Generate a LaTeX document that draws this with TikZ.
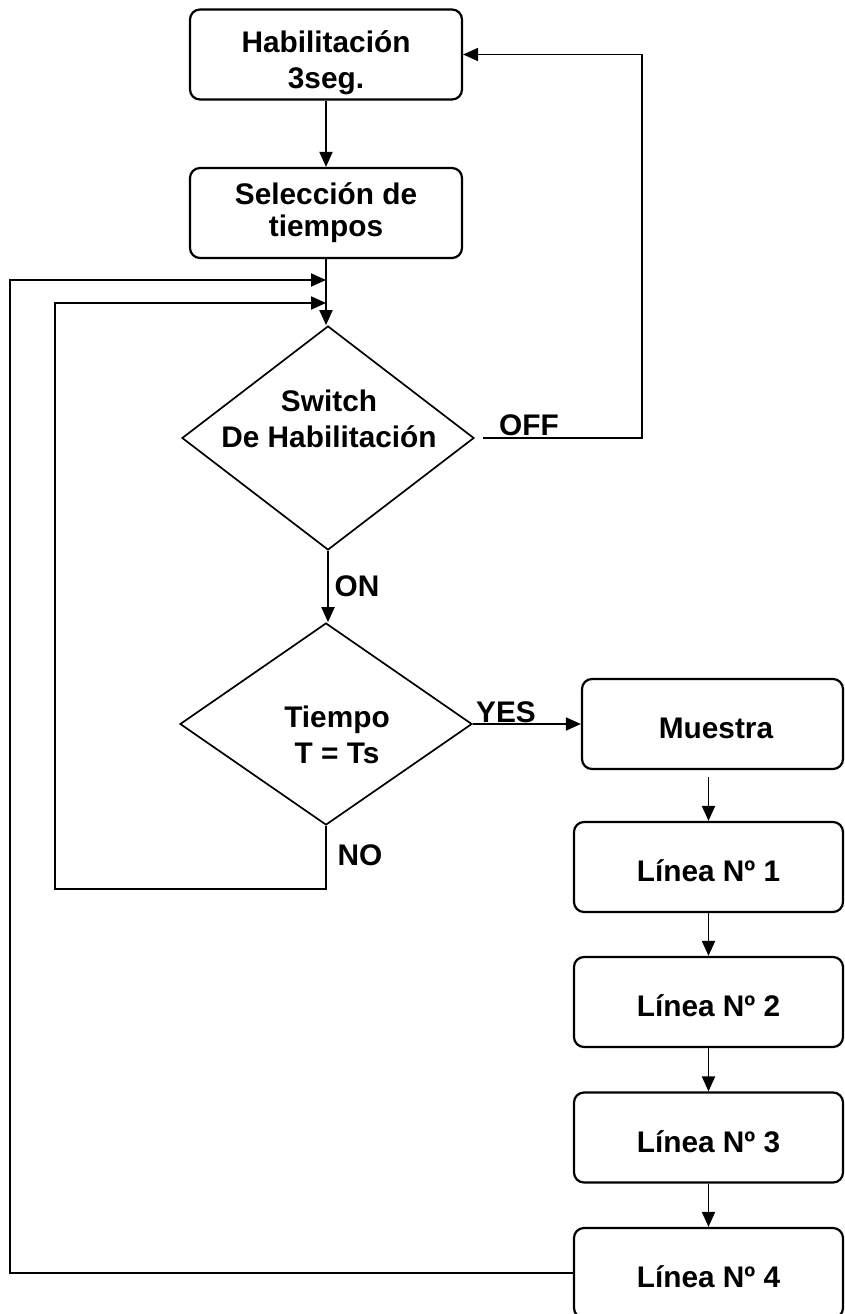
\documentclass[tikz,border=0pt]{standalone}
\usepackage{fontspec}
\setmainfont{Liberation Sans}
\usetikzlibrary{shapes.geometric,arrows.meta}
\begin{document}
\begin{tikzpicture}[x=1pt,y=-1pt,
  fnt/.style={font=\bfseries\fontsize{29.8}{36}\selectfont},
  box/.style={draw,line width=2.2pt,rounded corners=10pt,minimum width=272pt,minimum height=90pt,inner sep=0pt},
  lbox/.style={box,minimum width=269pt},
  dia/.style={draw,diamond,line width=1.7pt,inner sep=0pt},
  txt/.style={align=center,inner sep=0pt,fnt},
  btxt/.style={inner sep=0pt,anchor=base,fnt},
  conn/.style={line width=1.9pt},
  arr/.style={conn,-{Triangle[length=15pt,width=13pt]}},
  lbl/.style={inner sep=0pt,fnt}]
\clip (0,0) rectangle (845,1314);
\fill[white] (0,0) rectangle (845,1314);
% nodes
\node[box] (hab) at (326,54.5) {};
\node[txt] (habt) at (326,63) {Habilitación\\3seg.};
\node[box] (sel) at (326,213) {};
\node[txt,font=\bfseries\fontsize{29.8}{32}\selectfont] (selt) at (326,213) {Selección de\\tiempos};
\node[dia,minimum width=292pt,minimum height=224pt] (sw) at (328,438) {};
\node[txt] (swt) at (329,419) {Switch\\De Habilitación};
\node[dia,minimum width=292pt,minimum height=202pt] (tie) at (326,724) {};
\node[txt] (tiet) at (337,735) {Tiempo\\T = Ts};
\node[box,minimum width=261pt] (mue) at (712.5,724) {};
\node[btxt] (muet) at (716,738.5) {Muestra};
\node[lbox] (l1) at (708.5,867) {};
\node[btxt] (l1t) at (708.5,881.5) {Línea Nº 1};
\node[lbox] (l2) at (708.5,1002) {};
\node[btxt] (l2t) at (708.5,1016.5) {Línea Nº 2};
\node[lbox] (l3) at (708.5,1137.5) {};
\node[btxt] (l3t) at (708.5,1152) {Línea Nº 3};
\node[lbox] (l4) at (708.5,1273) {};
\node[btxt] (l4t) at (708.5,1287) {Línea Nº 4};
% labels
\node[lbl] (loff) at (529,425) {OFF};
\node[lbl] (lon) at (357,586) {ON};
\node[lbl] (lyes) at (506,712) {YES};
\node[lbl] (lno) at (360,855) {NO};
% junctions
\coordinate (j1) at (326,280);
\coordinate (j2) at (326,303);
\coordinate (offs) at (483,438);
% connectors
\draw[arr] (hab.south) -- (sel.north);
\draw[arr] (sel.south) -- (sel.south |- sw.north);
\draw[arr] (l4.west) -- (10,1273) -- (10,280) -- (j1);
\draw[arr] (tie.south) |- (55,889) -- (55,303) -- (j2);
\draw[arr] (offs) -- (642,438) |- (hab.east);
\draw[arr] (sw.south) -- (sw.south |- tie.north);
\draw[arr] (tie.east) -- (mue.west);
\draw[arr,shorten <=7pt] (l1.north |- mue.south) -- (l1.north);
\draw[arr] (l1.south) -- (l2.north);
\draw[arr] (l2.south) -- (l3.north);
\draw[arr] (l3.south) -- (l4.north);
\end{tikzpicture}
\end{document}
